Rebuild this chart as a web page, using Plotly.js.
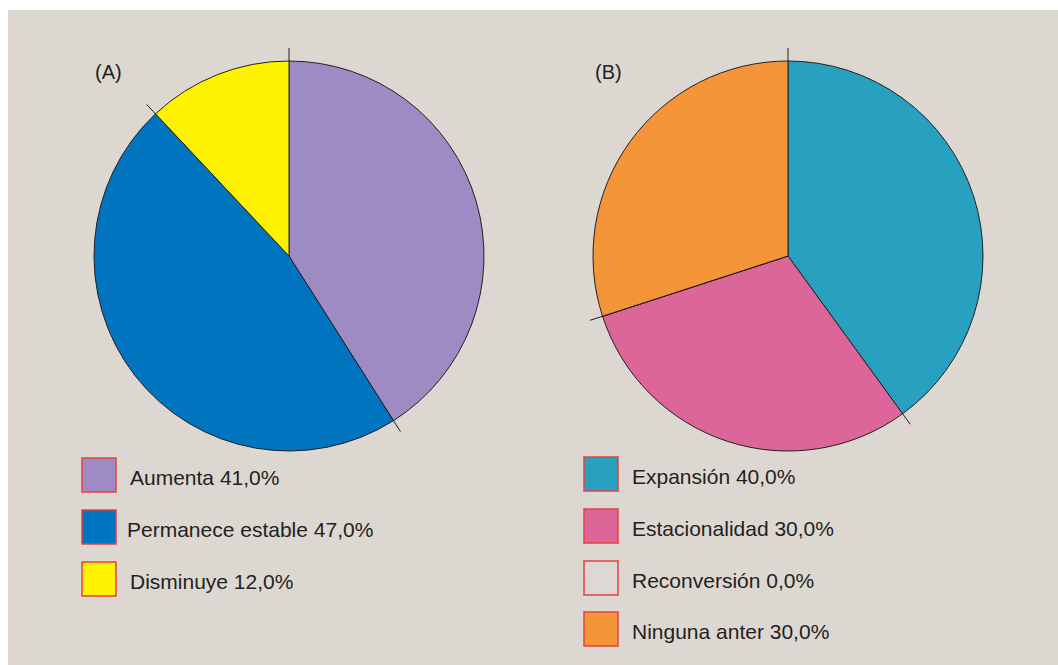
<!DOCTYPE html>
<html>
<head>
<meta charset="utf-8">
<script src="https://cdn.plot.ly/plotly-3.0.1.min.js"></script>
<style>html,body{margin:0;padding:0;background:#fff;}#chart{width:1058px;height:665px;}</style>
</head>
<body>
<div id="chart"></div>
<script>
// ---- data ----
const labelsA = ["Aumenta", "Permanece estable", "Disminuye"];
const valuesA = [41.0, 47.0, 12.0];
const colorsA = ["#9e8bc3", "#0074be", "#fff200"];

const labelsB = ["Expansión", "Estacionalidad", "Reconversión", "Ninguna anter"];
const valuesB = [40.0, 30.0, 0.0, 30.0];
const colorsB = ["#28a0bf", "#dc6699", "#ddd8d4", "#f59539"];

const panelTitles = ["(A)", "(B)"];

// ---- layout helpers ----
const W = 1058, H = 665;
const px = x => x / W;
const py = y => 1 - y / H;
const ink = "#231f20";
const bg = "#ddd7d2";
const fontFam = "Liberation Sans, Arial, sans-serif";

const pies = [
  {labels: labelsA, values: valuesA, colors: colorsA, cx: 289, cy: 256, r: 195, title: panelTitles[0], tx: 93,
   legX: 82, legTextX: [128, 125, 128], legY: [458, 510, 562]},
  {labels: labelsB, values: valuesB, colors: colorsB, cx: 788, cy: 256, r: 195, title: panelTitles[1], tx: 593,
   legX: 584, legTextX: [630, 630, 630, 630], legY: [457, 509, 561, 612]}
];

const traces = [];
const shapes = [];
const annotations = [];

// background panel
shapes.push({type: "rect", xref: "paper", yref: "paper", x0: px(8), x1: 1, y0: 0, y1: py(10),
  fillcolor: bg, line: {width: 0}, layer: "below"});

pies.forEach(p => {
  traces.push({
    type: "pie",
    labels: p.labels,
    values: p.values,
    sort: false,
    direction: "clockwise",
    rotation: 0,
    textinfo: "none",
    hoverinfo: "skip",
    showlegend: false,
    marker: {colors: p.colors, line: {color: ink, width: 1}},
    domain: {x: [px(p.cx - p.r), px(p.cx + p.r)], y: [py(p.cy + p.r), py(p.cy - p.r)]}
  });

  // boundary tick marks extending beyond the circle
  const total = p.values.reduce((a, b) => a + b, 0);
  let cum = 0;
  const bounds = [0];
  p.values.forEach(v => { cum += v; if (cum < total) bounds.push(cum); });
  [...new Set(bounds)].forEach(b => {
    const ang = (b / total) * 2 * Math.PI;
    const s = Math.sin(ang), c = Math.cos(ang);
    shapes.push({type: "line", xref: "paper", yref: "paper",
      x0: px(p.cx + p.r * s), y0: py(p.cy - p.r * c),
      x1: px(p.cx + (p.r + 13) * s), y1: py(p.cy - (p.r + 13) * c),
      line: {color: ink, width: 1}});
  });

  // panel label
  annotations.push({xref: "paper", yref: "paper", x: px(p.tx), y: py(72), xanchor: "left", yanchor: "middle",
    text: p.title, showarrow: false, font: {family: fontFam, size: 20, color: ink}});

  // legend
  p.labels.forEach((lab, i) => {
    const y0 = p.legY[i];
    shapes.push({type: "rect", xref: "paper", yref: "paper",
      x0: px(p.legX), x1: px(p.legX + 34), y0: py(y0 + 34), y1: py(y0),
      fillcolor: p.colors[i], line: {color: "#e5413f", width: 1.5}});
    annotations.push({xref: "paper", yref: "paper", x: px(p.legTextX[i]), y: py(y0 + 19),
      xanchor: "left", yanchor: "middle", showarrow: false,
      text: lab + " " + p.values[i].toFixed(1).replace(".", ",") + "%",
      font: {family: fontFam, size: 21, color: ink}});
  });
});

const layout = {
  width: W, height: H,
  margin: {l: 0, r: 0, t: 0, b: 0},
  paper_bgcolor: "#ffffff",
  plot_bgcolor: "rgba(0,0,0,0)",
  showlegend: false,
  shapes: shapes,
  annotations: annotations
};

Plotly.newPlot("chart", traces, layout, {displayModeBar: false, staticPlot: true});
</script>
</body>
</html>
